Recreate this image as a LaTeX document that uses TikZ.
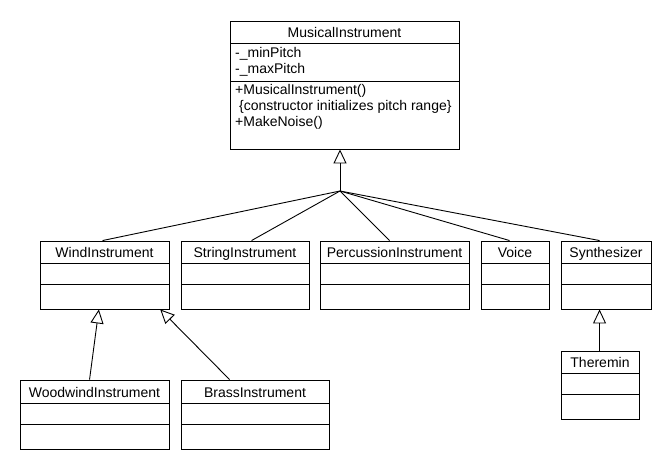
\documentclass[tikz,border=0pt]{standalone}
\usepackage{fontspec}
\setmainfont{Liberation Sans}
\usetikzlibrary{arrows.meta,calc,fit}
\tikzset{
  classbox/.style={draw, line width=0.9pt, inner sep=0pt},
  sepline/.style={line width=0.9pt},
  gen/.style={line width=0.9pt, -{Triangle[open, length=14pt, width=13pt]}},
  plain/.style={line width=0.9pt},
  title/.style={anchor=base, inner sep=0pt, font=\fontsize{14}{16}\selectfont},
  member/.style={anchor=base west, inner sep=0pt, font=\fontsize{14}{16}\selectfont},
}
\newcommand\umlbox[8]{%
  \node[classbox, fit={(#2,#4) (#3,#7)}] (#1) {};
  \draw[sepline] (#2,#5) -- (#3,#5);
  \draw[sepline] (#2,#6) -- (#3,#6);
  \node[title] (#1-t) at ({(#2+#3)/2},#5-5) {#8};
}
\begin{document}
\begin{tikzpicture}[x=1pt,y=-1pt]
\useasboundingbox (0,0) rectangle (670,470);
\fill[white] (0,0) rectangle (670,470);
% top class
\umlbox{mi}{230}{459}{21}{43}{81}{149}{MusicalInstrument}
\node[member] (a1) at (235,58) {-\_minPitch};
\node[member] (a2) at (235,74) {-\_maxPitch};
\node[member] (m1) at (235,95) {+MusicalInstrument()};
\node[member] (m2) at (235,111) {\ \{constructor initializes pitch range\}};
\node[member] (m3) at (235,127) {+MakeNoise()};
% row 2
\umlbox{wind}{40}{169}{241}{263}{284}{309}{WindInstrument}
\umlbox{string}{181}{309}{241}{263}{284}{309}{StringInstrument}
\umlbox{perc}{320}{469}{241}{263}{284}{309}{PercussionInstrument}
\umlbox{voice}{481}{549}{241}{263}{284}{309}{Voice}
\umlbox{synth}{561}{651}{241}{263}{284}{309}{Synthesizer}
% row 3
\umlbox{wood}{20}{169}{380}{403}{424}{449}{WoodwindInstrument}
\umlbox{brass}{181}{329}{380}{403}{424}{449}{BrassInstrument}
\umlbox{ther}{561}{639}{351}{373}{394}{419}{Theremin}
% generalization tree
\coordinate (j) at (340,191);
\draw[gen] (j) -- (mi.south -| j);
\draw[plain] (j) -- ($(wind.north west)+(63,0)$);
\draw[plain] (j) -- ($(string.north west)+(71,0)$);
\draw[plain] (j) -- ($(perc.north west)+(70,0)$);
\draw[plain] (j) -- ($(voice.north west)+(29,0)$);
\draw[plain] (j) -- ($(synth.north west)+(39,0)$);
% sub-generalizations
\draw[gen] ($(wood.north west)+(70,0)$) -- ($(wind.south west)+(59.3,0)$);
\draw[gen] ($(brass.north west)+(49,0)$) -- ($(wind.south west)+(120.7,0)$);
\draw[gen] ($(ther.north west)+(39,0)$) -- ($(synth.south west)+(39,0)$);
\end{tikzpicture}
\end{document}
